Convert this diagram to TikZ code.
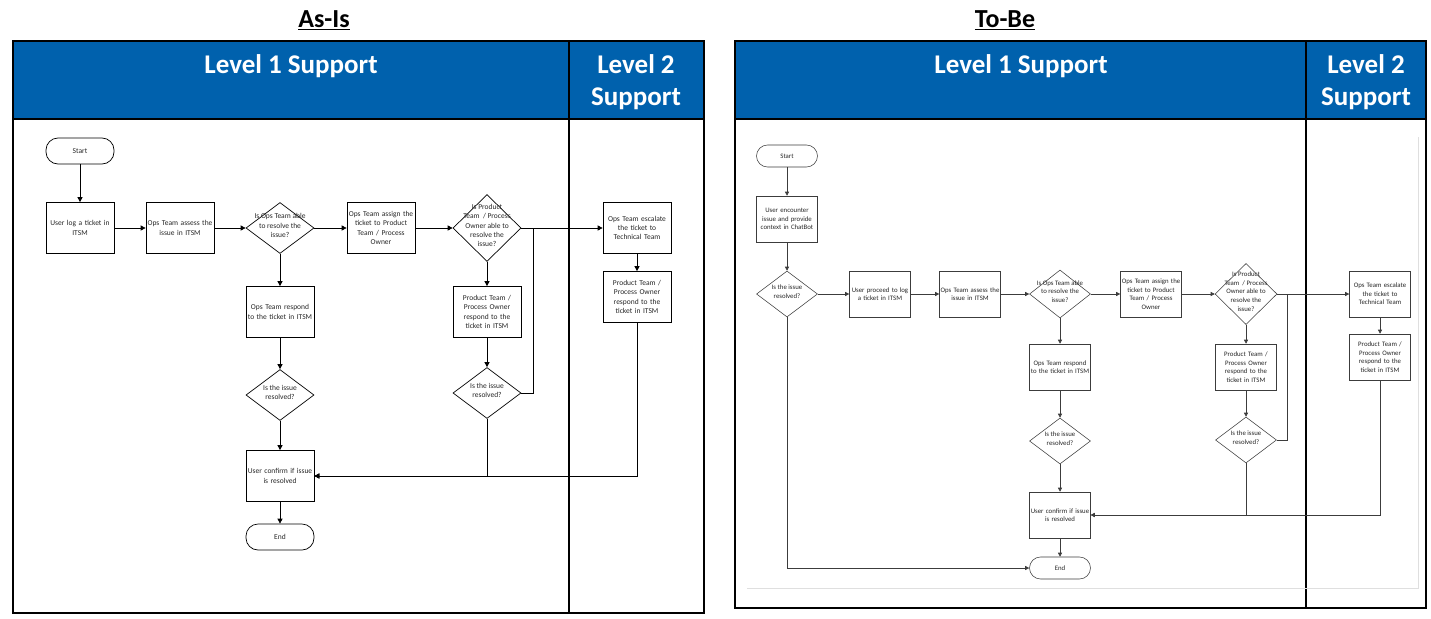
\documentclass[tikz,border=0pt]{standalone}
\usepackage{fontspec}
\setmainfont{Carlito}
\usepackage{tikz}
\usetikzlibrary{arrows.meta}
\usetikzlibrary{calc,positioning}
\usetikzlibrary{shapes.geometric}

\definecolor{hdrblue}{RGB}{0,97,173}
\definecolor{linegray}{RGB}{60,60,60}
\newcommand{\dtext}[1]{\makebox[0pt]{\smash{\begin{tabular}{@{}c@{}}#1\end{tabular}}}}

\begin{document}
\begin{tikzpicture}[x=1pt, y=-1pt,
    box/.style={rectangle, draw=black, line width=0.7pt, text centered, align=center, inner sep=0pt,
    minimum width=68pt, minimum height=51pt, text width=67pt, text=black!85, font=\fontsize{7.5}{9.2}\selectfont},
    choice/.style={diamond, draw=black, line width=0.7pt, inner sep=0pt, minimum width=68pt, minimum height=51pt,
    text=black!85, font=\fontsize{7.5}{9.2}\selectfont},
    term/.style={rectangle, rounded corners=12pt, draw=black, line width=0.7pt, inner sep=0pt,
    minimum width=68pt, minimum height=26pt, text=black!85, font=\fontsize{7.5}{9.2}\selectfont},
    flow/.style={draw=black, line width=0.7pt, -{Triangle[length=5pt,width=5pt]}},
    link/.style={draw=black, line width=0.7pt},
    tbbox/.style={box, draw=linegray, line width=0.55pt, minimum width=61pt, minimum height=46pt, text width=61pt,
    font=\fontsize{6.8}{8.6}\selectfont},
    tbchoice/.style={choice, draw=linegray, line width=0.55pt, minimum width=61pt, minimum height=46pt,
    font=\fontsize{6.8}{8.6}\selectfont},
    tbterm/.style={term, draw=linegray, line width=0.55pt, rounded corners=11pt, minimum width=61pt, minimum height=22pt,
    font=\fontsize{6.8}{8.6}\selectfont},
    tbflow/.style={draw=linegray, line width=0.55pt, -{Triangle[length=4pt,width=4pt]}},
    tblink/.style={draw=linegray, line width=0.55pt},
    title/.style={font=\fontsize{26}{30}\selectfont\bfseries, text=black},
    lane/.style={font=\fontsize{27}{32}\selectfont\bfseries, text=white, align=center}]
    \useasboundingbox (0,0) rectangle (1431,618);

    \node (asistitle) [title, anchor=base] at (324,28) {\underline{As-Is}};
    \node (tobetitle) [title, anchor=base] at (1005,28) {\underline{To-Be}};

    \fill[hdrblue] (13,41) rectangle (704,119);
    \draw[line width=2pt] (13,119) -- (704,119);
    \draw[line width=2pt] (569,41) -- (569,613);
    \draw[line width=1.3pt] (13,41) rectangle (704,613);
    \node (asisone) [lane, anchor=base] at (291,74) {Level 1 Support};
    \node (asistwo) [lane] at (636,82) {Level 2\\Support};

    \fill[hdrblue] (735,41) rectangle (1426,119);
    \draw[line width=2pt] (735,119) -- (1426,119);
    \draw[line width=2pt] (1306,41) -- (1306,608);
    \draw[line width=1.3pt] (735,41) rectangle (1426,608);
    \draw[gray!25, line width=0.8pt] (747,588) -- (1418,588) -- (1418,137);
    \node (tobeone) [lane, anchor=base] at (1021,74) {Level 1 Support};
    \node (tobetwo) [lane] at (1366,82) {Level 2\\Support};

    \node (start) [term] at (80,151) {Start};
    \node (logticket) [box] at (80,228) {User log a ticket in\\ITSM};
    \node (assess) [box] at (180,228) {Ops Team assess the\\issue in ITSM};
    \node (opsable) [choice] at (280,228) {\dtext{Is Ops Team able\\to resolve the\\issue?}};
    \node (assign) [box] at (381,228) {Ops Team assign the\\ticket to Product\\Team / Process\\Owner};
    \node (ptable) [choice, minimum width=68pt, minimum height=67pt] at (487,228)
    {\dtext{Is Product\\Team~~/ Process\\Owner able to\\resolve the\\issue?}};
    \node (escalate) [box] at (637,228) {Ops Team escalate\\the ticket to\\Technical Team};
    \node (techrespond) [box] at (637,297) {Product Team /\\Process Owner\\respond to the\\ticket in ITSM};
    \node (opsrespond) [box] at (280,312) {Ops Team respond\\to the ticket in ITSM};
    \node (ptrespond) [box] at (487,312) {Product Team /\\Process Owner\\respond to the\\ticket in ITSM};
    \node (resolveda) [choice] at (280,395) {\dtext{Is the issue\\resolved?}};
    \node (resolvedb) [choice] at (487,393) {\dtext{Is the issue\\resolved?}};
    \node (confirm) [box] at (280,476) {User confirm if issue\\is resolved};
    \node (end) [term] at (280,537) {End};
    \coordinate (joina) at (533,228);

    \draw[flow] (start) -- (logticket);
    \draw[flow] (logticket) -- (assess);
    \draw[flow] (assess) -- (opsable);
    \draw[flow] (opsable) -- (assign);
    \draw[flow] (assign) -- (ptable);
    \draw[flow] (ptable) -- (escalate);
    \draw[flow] (escalate) -- (techrespond);
    \draw[flow] (opsable) -- (opsrespond);
    \draw[flow] (opsrespond) -- (resolveda);
    \draw[flow] (resolveda) -- (confirm);
    \draw[flow] (confirm) -- (end);
    \draw[flow] (ptable) -- (ptrespond);
    \draw[flow] (ptrespond) -- (resolvedb);
    \draw[link] (resolvedb.east) -| (joina);
    \draw[flow] (resolvedb.south) |- (confirm.east);
    \draw[flow] (techrespond.south) |- (confirm.east);

    \node (tbstart) [tbterm] at (787,156) {Start};
    \node (tbencounter) [tbbox] at (787,219) {User encounter\\issue and provide\\context in ChatBot};
    \node (tbchatbot) [tbchoice] at (787,294) {\dtext{Is the issue\\resolved?}};
    \node (tblogticket) [tbbox] at (880,294) {User proceed to log\\a ticket in ITSM};
    \node (tbassess) [tbbox] at (970,294) {Ops Team assess the\\issue in ITSM};
    \node (tbopsable) [tbchoice, minimum height=48pt] at (1060,294) {\dtext{Is Ops Team able\\to resolve the\\issue?}};
    \node (tbassign) [tbbox] at (1151,294) {Ops Team assign the\\ticket to Product\\Team / Process\\Owner};
    \node (tbptable) [tbchoice, minimum width=62pt, minimum height=61pt] at (1246,294)
    {\dtext{Is Product\\Team~~/ Process\\Owner able to\\resolve the\\issue?}};
    \node (tbescalate) [tbbox] at (1380,294) {Ops Team escalate\\the ticket to\\Technical Team};
    \node (tbtechrespond) [tbbox] at (1380,357) {Product Team /\\Process Owner\\respond to the\\ticket in ITSM};
    \node (tbopsrespond) [tbbox] at (1060,367) {Ops Team respond\\to the ticket in ITSM};
    \node (tbptrespond) [tbbox] at (1246,367) {Product Team /\\Process Owner\\respond to the\\ticket in ITSM};
    \node (tbresolveda) [tbchoice] at (1060,441) {\dtext{Is the issue\\resolved?}};
    \node (tbresolvedb) [tbchoice] at (1246,440) {\dtext{Is the issue\\resolved?}};
    \node (tbconfirm) [tbbox] at (1060,515) {User confirm if issue\\is resolved};
    \node (tbend) [tbterm] at (1060,568) {End};
    \coordinate (tbjoina) at (1287,294);

    \draw[tbflow] (tbstart) -- (tbencounter);
    \draw[tbflow] (tbencounter) -- (tbchatbot);
    \draw[tbflow] (tbchatbot) -- (tblogticket);
    \draw[tbflow] (tblogticket) -- (tbassess);
    \draw[tbflow] (tbassess) -- (tbopsable);
    \draw[tbflow] (tbopsable) -- (tbassign);
    \draw[tbflow] (tbassign) -- (tbptable);
    \draw[tbflow] (tbptable) -- (tbescalate);
    \draw[tbflow] (tbescalate) -- (tbtechrespond);
    \draw[tbflow] (tbopsable) -- (tbopsrespond);
    \draw[tbflow] (tbopsrespond) -- (tbresolveda);
    \draw[tbflow] (tbresolveda) -- (tbconfirm);
    \draw[tbflow] (tbconfirm) -- (tbend);
    \draw[tbflow] (tbptable) -- (tbptrespond);
    \draw[tbflow] (tbptrespond) -- (tbresolvedb);
    \draw[tblink] (tbresolvedb.east) -| (tbjoina);
    \draw[tbflow] (tbresolvedb.south) |- (tbconfirm.east);
    \draw[tbflow] (tbtechrespond.south) |- (tbconfirm.east);
    \draw[tbflow] (tbchatbot.south) |- (tbend.west);
\end{tikzpicture}
\end{document}
